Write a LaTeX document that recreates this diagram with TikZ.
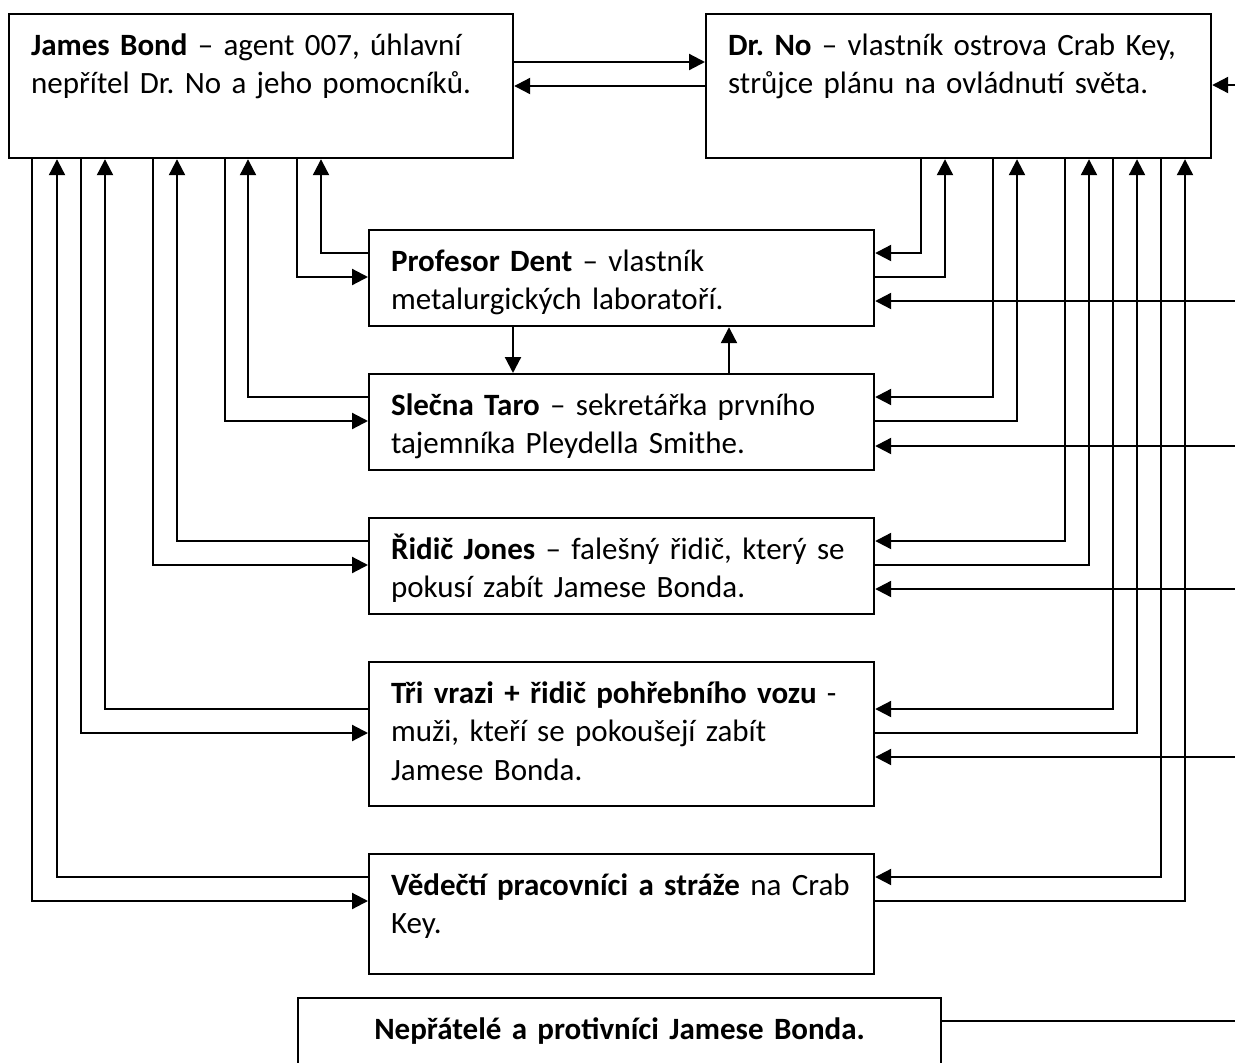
\documentclass[tikz,border=0pt]{standalone}
\usepackage{fontspec}
\setmainfont{Carlito}
\usetikzlibrary{arrows.meta}
\frenchspacing

\tikzset{
  role/.style={draw, anchor=north west, align=left, text width=#1,
    inner xsep=22pt, inner ysep=0pt, text height=41pt,
    font=\fontsize{31}{38.5}\selectfont},
  role/.default=461pt
}

\begin{document}
\begin{tikzpicture}[>={Triangle[length=16pt,width=16pt]}, x=1pt, y=-1pt, line width=2.2pt]
  \useasboundingbox (0,0) rectangle (1235,1063);
  \coordinate (edge) at (1235,0);

  \node[role=460pt, text depth=103pt] (bond) at (8,13)
    {\textbf{James Bond} – agent 007, úhlavní\\nepřítel Dr. No a jeho pomocníků.};
  \node[role, text depth=103pt] (drno) at (705,13)
    {\textbf{Dr. No} – vlastník ostrova Crab Key,\\strůjce plánu na ovládnutí světa.};
  \node[role, text depth=55pt] (dent) at (368,229)
    {\textbf{Profesor Dent} – vlastník\\metalurgických laboratoří.};
  \node[role, text depth=55pt] (taro) at (368,373)
    {\textbf{Slečna Taro} – sekretářka prvního\\tajemníka Pleydella Smithe.};
  \node[role, text depth=55pt] (jones) at (368,517)
    {\textbf{Řidič Jones} – falešný řidič, který se\\pokusí zabít Jamese Bonda.};
  \node[role, text depth=103pt] (tri) at (368,661)
    {\textbf{Tři vrazi + řidič pohřebního vozu} -\\muži, kteří se pokoušejí zabít\\Jamese Bonda.};
  \node[role, text depth=79pt] (vedci) at (368,853)
    {\textbf{Vědečtí pracovníci a stráže} na Crab\\Key.};
  \node[role=599pt, align=center, text depth=80pt] (legend) at (297,997)
    {\textbf{Nepřátelé a protivníci Jamese Bonda.}};

  \draw[->] (bond.east |- 0,62) -- (drno.west |- 0,62);
  \draw[->] (drno.west |- 0,86) -- (bond.east |- 0,86);

  \draw[->] (dent.south -| 513,0) -- (taro.north -| 513,0);
  \draw[->] (taro.north -| 729,0) -- (dent.south -| 729,0);

  \foreach \who/\xd/\xu/\yd/\yu in {dent/297/321/277/253, taro/225/248/421/397,
      jones/153/177/565/541, tri/81/105/733/709, vedci/32/57/901/877}{
    \draw[->] (bond.south -| \xd,0) |- (\who.west |- 0,\yd);
    \draw[->] (\who.west |- 0,\yu) -| (bond.south -| \xu,0);
  }

  \foreach \who/\xd/\xu/\yd/\yu in {dent/921/945/253/277, taro/993/1017/397/421,
      jones/1065/1089/541/565, tri/1113/1137/709/733, vedci/1161/1185/877/901}{
    \draw[->] (drno.south -| \xd,0) |- (\who.east |- 0,\yd);
    \draw[->] (\who.east |- 0,\yu) -| (drno.south -| \xu,0);
  }

  \foreach \who/\y in {drno/85, dent/301, taro/446, jones/589, tri/757}
    \draw[->] (edge |- 0,\y) -- (\who.east |- 0,\y);

  \draw (legend.east |- 0,1021) -- (edge |- 0,1021);
\end{tikzpicture}
\end{document}
